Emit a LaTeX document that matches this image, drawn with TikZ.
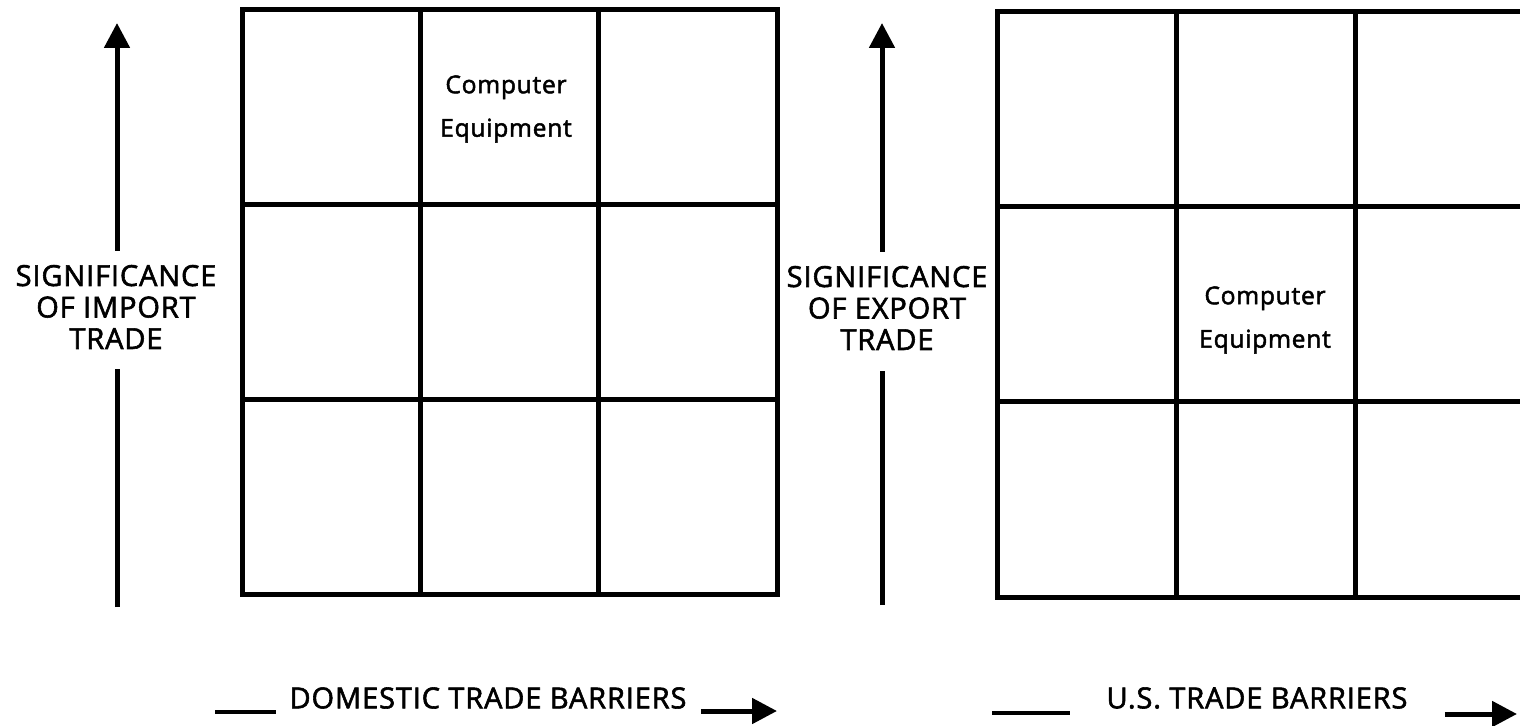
\documentclass[tikz,border=0pt]{standalone}
\usepackage{fontspec}
\setmainfont{Open Sans}
\newfontfamily\lblfont{Open Sans}[FakeBold=2, LetterSpace=3]
\usetikzlibrary{arrows.meta,positioning}

\begin{document}
\begin{tikzpicture}[
  x=0.5pt, y=-0.5pt,
  axislbl/.style={font=\lblfont\fontsize{14.5}{15.75}\selectfont, align=center, inner sep=0pt},
  celllbl/.style={font=\lblfont\fontsize{12.3}{21.7}\selectfont, align=center, inner sep=0pt},
  gridline/.style={line width=2.5pt},
  shaft/.style={line width=2.5pt},
  stub/.style={line width=2pt},
  arr/.style={-{Triangle[length=12.5pt, width=12.5pt]}, line width=2.5pt}
]
\useasboundingbox (0,0) rectangle (1520,726);
\clip (0,0) rectangle (1520,726);

% left matrix
\draw[gridline] (242,10) rectangle (777,594);
\foreach \i in {1,2} {
  \draw[gridline] (242+178.3*\i,10) -- (242+178.3*\i,594);
  \draw[gridline] (242,10+194.7*\i) -- (777,10+194.7*\i);
}
% right matrix (runs off the page)
\draw[gridline] (997,12) rectangle (1534,597);
\foreach \i in {1,2} {
  \draw[gridline] (997+179*\i,12) -- (997+179*\i,597);
  \draw[gridline] (997,12+195*\i) -- (1534,12+195*\i);
}

\node[celllbl] (cpuL) at (506,109) {Computer\\Equipment};
\node[celllbl] (cpuR) at (1265,320) {Computer\\Equipment};

% vertical axes
\node[axislbl] (imp) at (116,307) {SIGNIFICANCE\\OF IMPORT\\TRADE};
\node[axislbl] (exp) at (887,308) {SIGNIFICANCE\\OF EXPORT\\TRADE};
\coordinate (impTop)  at (117,23);
\coordinate (impFoot) at (117,607);
\coordinate (expTop)  at (882,23);
\coordinate (expFoot) at (882,605);
\draw[arr, shorten <=7pt] (imp.north -| impTop) -- (impTop);
\draw[shaft, shorten >=10pt] (impFoot) -- (imp.south -| impFoot);
\draw[arr, shorten <=7pt] (exp.north -| expTop) -- (expTop);
\draw[shaft, shorten >=10.5pt] (expFoot) -- (exp.south -| expFoot);

% horizontal axes
\node[axislbl] (dom) at (488,698) {DOMESTIC TRADE BARRIERS};
\node[axislbl] (us)  at (1257,698) {U.S. TRADE BARRIERS};
\coordinate (domL) at (215,712);
\coordinate (domR) at (777,711);
\coordinate (usL)  at (992,713);
\coordinate (usR)  at (1517,714);
\draw[stub, shorten >=6.5pt] (domL) -- (domL -| dom.west);
\draw[arr, shorten <=7pt] (dom.east |- domR) -- (domR);
\draw[stub, shorten >=18pt] (usL) -- (usL -| us.west);
\draw[arr, shorten <=18.5pt] (us.east |- usR) -- (usR);
\end{tikzpicture}
\end{document}
